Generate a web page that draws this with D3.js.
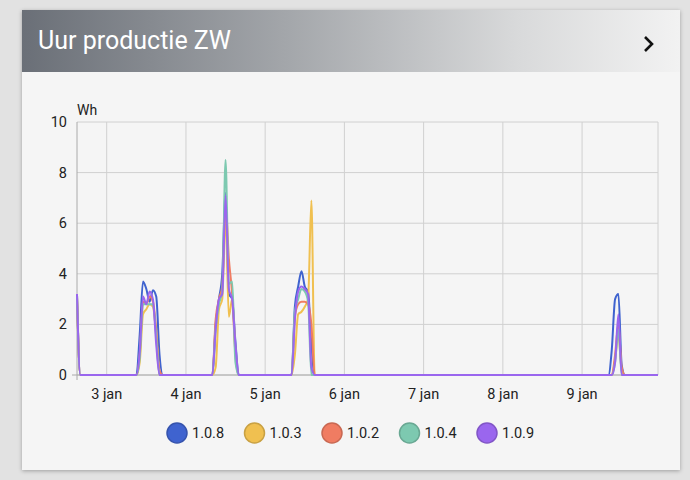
<!DOCTYPE html>
<html>
<head>
<meta charset="utf-8">
<script src="https://cdn.jsdelivr.net/npm/d3@7"></script>
<style>
  body { margin: 0; background: #e2e2e2; font-family: Roboto, sans-serif; }
  #card { position: absolute; left: 22px; top: 10px; width: 658px; height: 460px; background: #f5f5f5;
    box-shadow: 0 1px 4px rgba(0,0,0,0.3); }
  #head { height: 62px; background: linear-gradient(to right, #6a6f77, #a3a6aa 40%, #d8d9da 75%, #f2f2f2);
    color: #fff; font-size: 25px; line-height: 62px; padding-left: 16px; position: relative; }
  svg { position: absolute; left: 0; top: 0; }
</style>
</head>
<body>
<div id="card"><div id="head">Uur productie ZW</div></div>
<svg id="chart" width="690" height="480"></svg>
<script>
// chart window (hourly samples)
const startTime = new Date(2024, 0, 2, 15);
const endTime = new Date(2024, 0, 9, 23);

const seriesNames = ["1.0.8", "1.0.3", "1.0.2", "1.0.4", "1.0.9"];
const colors = ["#3f63cf", "#f0c050", "#f07c62", "#7dc9b0", "#9a66ee"];
const yTicks = [0, 2, 4, 6, 8, 10];
const dayTicks = [3, 4, 5, 6, 7, 8, 9];

// production segments: day of month, first hour, values per series (in seriesNames order)
const segments = [
  { day: 2, hour: 15, values: [[3.2, 0], [3.1, 0], [3.1, 0], [3.1, 0], [3.2, 0]] },
  { day: 3, hour: 9, values: [
    [0, 1.6, 3.7, 3.4, 2.9, 3.35, 3.1, 0.8, 0],
    [0, 0.5, 2.4, 2.6, 2.8, 2.7, 1.6, 0, 0],
    [0, 0.8, 2.9, 2.8, 3.1, 2.9, 1.8, 0.2, 0],
    [0, 0.7, 2.8, 2.8, 2.8, 2.8, 1.5, 0, 0],
    [0, 0.9, 3.1, 2.8, 3.3, 3.0, 1.2, 0, 0]] },
  { day: 4, hour: 8, values: [
    [0, 2.0, 3.0, 4.0, 7.2, 3.2, 3.0, 1.3, 0],
    [0, 0.3, 2.6, 3.0, 6.3, 2.3, 3.0, 1.0, 0],
    [0, 2.2, 3.0, 3.5, 6.8, 4.6, 3.2, 0.8, 0],
    [0, 1.8, 2.8, 3.3, 8.5, 3.6, 3.7, 0.5, 0],
    [0, 1.8, 3.0, 3.2, 7.1, 3.4, 3.0, 1.2, 0]] },
  { day: 5, hour: 8, values: [
    [0, 2.7, 3.5, 4.1, 3.5, 3.3, 1.2, 0],
    [0, 0.8, 2.4, 2.5, 2.7, 3.0, 6.9, 0],
    [0, 2.3, 2.8, 2.9, 2.9, 2.8, 2.0, 0],
    [0, 2.5, 3.0, 3.4, 3.3, 2.9, 0, 0],
    [0, 2.2, 3.3, 3.5, 3.4, 3.2, 0.3, 0]] },
  { day: 9, hour: 8, values: [
    [0, 1.0, 3.0, 3.2, 0.4, 0],
    [0, 0, 0.6, 1.6, 0.2, 0],
    [0, 0, 0.8, 2.0, 0.3, 0],
    [0, 0, 0.5, 1.8, 0, 0],
    [0, 0, 0.5, 2.4, 0, 0]] }
];

const svg = d3.select("#chart");
const x = d3.scaleTime().domain([startTime, endTime]).range([77, 658]);
const y = d3.scaleLinear().domain([0, 10]).range([375, 122]);

// chevron in the header
svg.append("path").attr("d", "M645,37 L652,44 L645,51").attr("fill", "none")
  .attr("stroke", "#111").attr("stroke-width", 2.6);

// hourly series, zero outside production segments
const hours = d3.timeHour.range(startTime, d3.timeHour.offset(endTime, 1));
const series = seriesNames.map((name, i) => {
  const lookup = new Map();
  segments.forEach((s) => s.values[i].forEach((v, k) => {
    lookup.set(+new Date(2024, 0, s.day, s.hour + k), v);
  }));
  return hours.map((t) => ({ t, v: lookup.get(+t) || 0 }));
});

// grid
svg.append("g").selectAll("line").data(yTicks).join("line")
  .attr("x1", 77).attr("x2", 658).attr("y1", (d) => y(d)).attr("y2", (d) => y(d))
  .attr("stroke", "#d0d0d0");
svg.append("g").selectAll("line").data(dayTicks).join("line")
  .attr("x1", (d) => x(new Date(2024, 0, d))).attr("x2", (d) => x(new Date(2024, 0, d)))
  .attr("y1", 122).attr("y2", 375).attr("stroke", "#d0d0d0");
svg.append("line").attr("x1", 658).attr("x2", 658).attr("y1", 122).attr("y2", 375).attr("stroke", "#d0d0d0");
svg.append("line").attr("x1", 77).attr("x2", 77).attr("y1", 122).attr("y2", 380).attr("stroke", "#aaa");
svg.append("line").attr("x1", 72).attr("x2", 658).attr("y1", 375).attr("y2", 375).attr("stroke", "#aaa");

// axis labels
svg.append("g").selectAll("text").data(yTicks).join("text")
  .attr("x", 67).attr("y", (d) => y(d) + 5).attr("text-anchor", "end")
  .attr("font-size", 14.5).attr("fill", "#222").text((d) => d);
svg.append("g").selectAll("text").data(dayTicks).join("text")
  .attr("x", (d) => x(new Date(2024, 0, d))).attr("y", 399).attr("text-anchor", "middle")
  .attr("font-size", 14.5).attr("fill", "#222").text((d) => d + " jan");
svg.append("text").attr("x", 77).attr("y", 115).attr("font-size", 14).attr("fill", "#222").text("Wh");

// lines
const line = d3.line().x((d) => x(d.t)).y((d) => y(d.v)).curve(d3.curveMonotoneX);
svg.append("g").selectAll("path").data(series).join("path")
  .attr("d", line).attr("fill", "none").attr("stroke-width", 2)
  .attr("stroke", (d, i) => colors[i]);

// legend
const legend = svg.append("g").selectAll("g").data(seriesNames).join("g")
  .attr("transform", (d, i) => `translate(${177 + i * 77.5},433)`);
legend.append("circle").attr("r", 10).attr("fill", (d, i) => colors[i])
  .attr("stroke", (d, i) => d3.color(colors[i]).darker(0.5)).attr("stroke-width", 1.5);
legend.append("text").attr("x", 15).attr("y", 5).attr("font-size", 14.5).attr("fill", "#222").text((d) => d);
</script>
</body>
</html>
